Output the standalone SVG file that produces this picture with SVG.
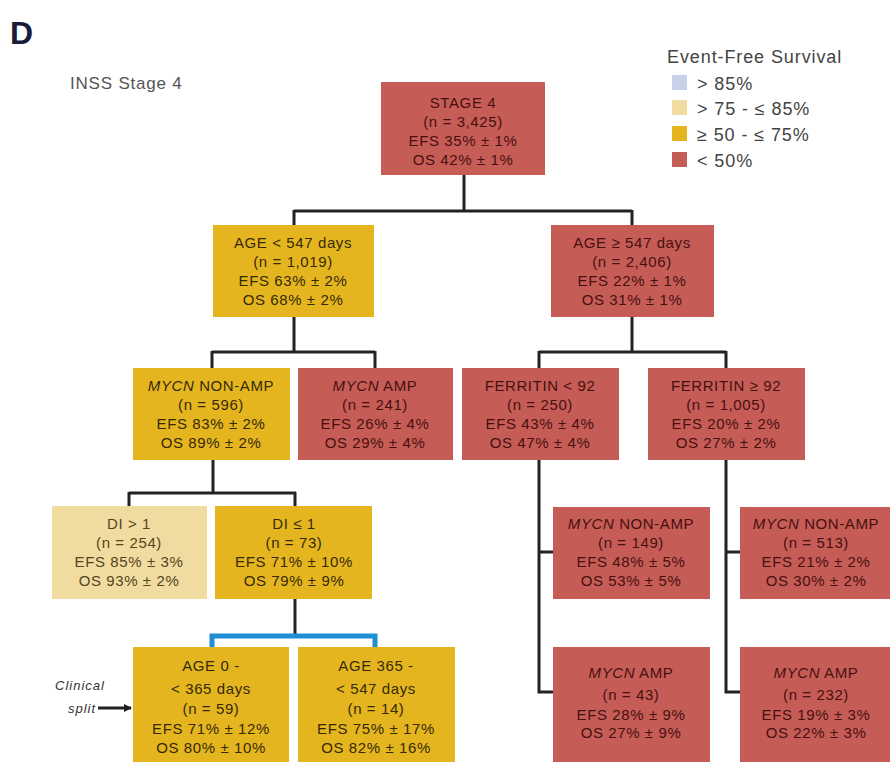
<svg xmlns="http://www.w3.org/2000/svg" width="890" height="762" viewBox="0 0 890 762">
<style>
  .red{fill:#c65c56}
  .yel{fill:#e5b520}
  .lyel{fill:#f0dca0}
  .lblue{fill:#c8d0ea}
  text{font-family:"Liberation Sans",Arial,sans-serif}
  .t{font-size:15px;text-anchor:middle;letter-spacing:0.6px}
  .tr{fill:#461010}
  .ty{fill:#352a05}
  .tl{fill:#54441c}
  .ln{fill:none;stroke:#222;stroke-width:3}
  .bl{fill:none;stroke:#1d8fd2;stroke-width:5}
  .leg{font-size:18px;fill:#444;letter-spacing:0.9px}
</style>
<defs>
  <marker id="arr" markerWidth="8" markerHeight="8" refX="7" refY="4" orient="auto" markerUnits="userSpaceOnUse">
    <path d="M0,0 L8,4 L0,8 z" fill="#222"/>
  </marker>
</defs>
<rect width="890" height="762" fill="#fff"/>
<text x="10" y="44" font-size="32" font-weight="bold" fill="#1a1a3a">D</text>
<text x="70" y="89" font-size="17" fill="#555" letter-spacing="0.8">INSS Stage 4</text>

<g id="legend">
  <text x="667" y="63" class="leg">Event-Free Survival</text>
  <rect x="672" y="75" width="15" height="15" class="lblue"/>
  <text x="697" y="90" class="leg">&gt; 85%</text>
  <rect x="672" y="100" width="15" height="15" class="lyel"/>
  <text x="697" y="115" class="leg">&gt; 75 - ≤ 85%</text>
  <rect x="672" y="126" width="15" height="15" class="yel"/>
  <text x="697" y="141" class="leg">≥ 50 - ≤ 75%</text>
  <rect x="672" y="152" width="15" height="15" class="red"/>
  <text x="697" y="167" class="leg">&lt; 50%</text>
</g>

<g id="connectors">
  <path class="ln" d="M464,175 V211 M294,211 H632 M294,210 V225 M632,210 V225"/>
  <path class="ln" d="M294,317 V352 M212,352 H375 M212,351 V368 M375,351 V368"/>
  <path class="ln" d="M632,317 V352 M539,352 H726 M539,351 V368 M726,351 V368"/>
  <path class="ln" d="M213,460 V493 M129,493 H296 M129,492 V506 M295,492 V506"/>
  <path class="ln" d="M539,460 V692 H553 M539,552 H553"/>
  <path class="ln" d="M726,460 V692 H740 M726,552 H740"/>
  <path class="ln" d="M295,599 V636"/>
  <path class="bl" d="M212,648 V636 H375 V648"/>
  <path d="M98,708 H131" stroke="#222" stroke-width="3" marker-end="url(#arr)"/>
</g>
<g id="clinical">
  <text x="80" y="690" font-size="13" font-style="italic" fill="#333" text-anchor="middle" letter-spacing="1">Clinical</text>
  <text x="82" y="713" font-size="13" font-style="italic" fill="#333" text-anchor="middle" letter-spacing="1">split</text>
</g>

<g id="stage4">
  <rect x="381" y="82" width="164" height="93" class="red"/>
  <text class="t tr" x="463" y="108">STAGE 4</text>
  <text class="t tr" x="463" y="127">(n = 3,425)</text>
  <text class="t tr" x="463" y="146">EFS 35% ± 1%</text>
  <text class="t tr" x="463" y="165">OS 42% ± 1%</text>
</g>

<g id="age_lt547">
  <rect x="213" y="225" width="161" height="92" class="yel"/>
  <text class="t ty" x="293" y="248">AGE &lt; 547 days</text>
  <text class="t ty" x="293" y="267">(n = 1,019)</text>
  <text class="t ty" x="293" y="286">EFS 63% ± 2%</text>
  <text class="t ty" x="293" y="305">OS 68% ± 2%</text>
</g>

<g id="age_ge547">
  <rect x="551" y="225" width="163" height="92" class="red"/>
  <text class="t tr" x="632" y="248">AGE ≥ 547 days</text>
  <text class="t tr" x="632" y="267">(n = 2,406)</text>
  <text class="t tr" x="632" y="286">EFS 22% ± 1%</text>
  <text class="t tr" x="632" y="305">OS 31% ± 1%</text>
</g>

<g id="mycn_nonamp_596">
  <rect x="133" y="368" width="157" height="92" class="yel"/>
  <text class="t ty" x="211" y="391"><tspan font-style="italic">MYCN</tspan> NON-AMP</text>
  <text class="t ty" x="211" y="410">(n = 596)</text>
  <text class="t ty" x="211" y="429">EFS 83% ± 2%</text>
  <text class="t ty" x="211" y="448">OS 89% ± 2%</text>
</g>

<g id="mycn_amp_241">
  <rect x="298" y="368" width="155" height="92" class="red"/>
  <text class="t tr" x="375" y="391"><tspan font-style="italic">MYCN</tspan> AMP</text>
  <text class="t tr" x="375" y="410">(n = 241)</text>
  <text class="t tr" x="375" y="429">EFS 26% ± 4%</text>
  <text class="t tr" x="375" y="448">OS 29% ± 4%</text>
</g>

<g id="ferritin_lt92">
  <rect x="462" y="368" width="157" height="92" class="red"/>
  <text class="t tr" x="540" y="391">FERRITIN &lt; 92</text>
  <text class="t tr" x="540" y="410">(n = 250)</text>
  <text class="t tr" x="540" y="429">EFS 43% ± 4%</text>
  <text class="t tr" x="540" y="448">OS 47% ± 4%</text>
</g>

<g id="ferritin_ge92">
  <rect x="648" y="368" width="157" height="92" class="red"/>
  <text class="t tr" x="726" y="391">FERRITIN ≥ 92</text>
  <text class="t tr" x="726" y="410">(n = 1,005)</text>
  <text class="t tr" x="726" y="429">EFS 20% ± 2%</text>
  <text class="t tr" x="726" y="448">OS 27% ± 2%</text>
</g>

<g id="di_gt1">
  <rect x="52" y="506" width="155" height="93" class="lyel"/>
  <text class="t tl" x="129" y="529">DI &gt; 1</text>
  <text class="t tl" x="129" y="548">(n = 254)</text>
  <text class="t tl" x="129" y="567">EFS 85% ± 3%</text>
  <text class="t tl" x="129" y="586">OS 93% ± 2%</text>
</g>

<g id="di_le1">
  <rect x="215" y="506" width="157" height="93" class="yel"/>
  <text class="t ty" x="294" y="529">DI ≤ 1</text>
  <text class="t ty" x="294" y="548">(n = 73)</text>
  <text class="t ty" x="294" y="567">EFS 71% ± 10%</text>
  <text class="t ty" x="294" y="586">OS 79% ± 9%</text>
</g>

<g id="mycn_nonamp_149">
  <rect x="553" y="507" width="157" height="92" class="red"/>
  <text class="t tr" x="631" y="529"><tspan font-style="italic">MYCN</tspan> NON-AMP</text>
  <text class="t tr" x="631" y="548">(n = 149)</text>
  <text class="t tr" x="631" y="567">EFS 48% ± 5%</text>
  <text class="t tr" x="631" y="586">OS 53% ± 5%</text>
</g>

<g id="mycn_nonamp_513">
  <rect x="740" y="507" width="157" height="92" class="red"/>
  <text class="t tr" x="816" y="529"><tspan font-style="italic">MYCN</tspan> NON-AMP</text>
  <text class="t tr" x="816" y="548">(n = 513)</text>
  <text class="t tr" x="816" y="567">EFS 21% ± 2%</text>
  <text class="t tr" x="816" y="586">OS 30% ± 2%</text>
</g>

<g id="age_0_365">
  <rect x="133" y="647" width="156" height="120" class="yel"/>
  <text class="t ty" x="211" y="671">AGE 0 -</text>
  <text class="t ty" x="211" y="694">&lt; 365 days</text>
  <text class="t ty" x="211" y="714">(n = 59)</text>
  <text class="t ty" x="211" y="734">EFS 71% ± 12%</text>
  <text class="t ty" x="211" y="753">OS 80% ± 10%</text>
</g>

<g id="age_365_547">
  <rect x="298" y="647" width="157" height="120" class="yel"/>
  <text class="t ty" x="376" y="671">AGE 365 -</text>
  <text class="t ty" x="376" y="694">&lt; 547 days</text>
  <text class="t ty" x="376" y="714">(n = 14)</text>
  <text class="t ty" x="376" y="734">EFS 75% ± 17%</text>
  <text class="t ty" x="376" y="753">OS 82% ± 16%</text>
</g>

<g id="mycn_amp_43">
  <rect x="553" y="647" width="157" height="120" class="red"/>
  <text class="t tr" x="631" y="678"><tspan font-style="italic">MYCN</tspan> AMP</text>
  <text class="t tr" x="631" y="700">(n = 43)</text>
  <text class="t tr" x="631" y="720">EFS 28% ± 9%</text>
  <text class="t tr" x="631" y="738">OS 27% ± 9%</text>
</g>

<g id="mycn_amp_232">
  <rect x="740" y="647" width="157" height="120" class="red"/>
  <text class="t tr" x="816" y="678"><tspan font-style="italic">MYCN</tspan> AMP</text>
  <text class="t tr" x="816" y="700">(n = 232)</text>
  <text class="t tr" x="816" y="720">EFS 19% ± 3%</text>
  <text class="t tr" x="816" y="738">OS 22% ± 3%</text>
</g>
</svg>
